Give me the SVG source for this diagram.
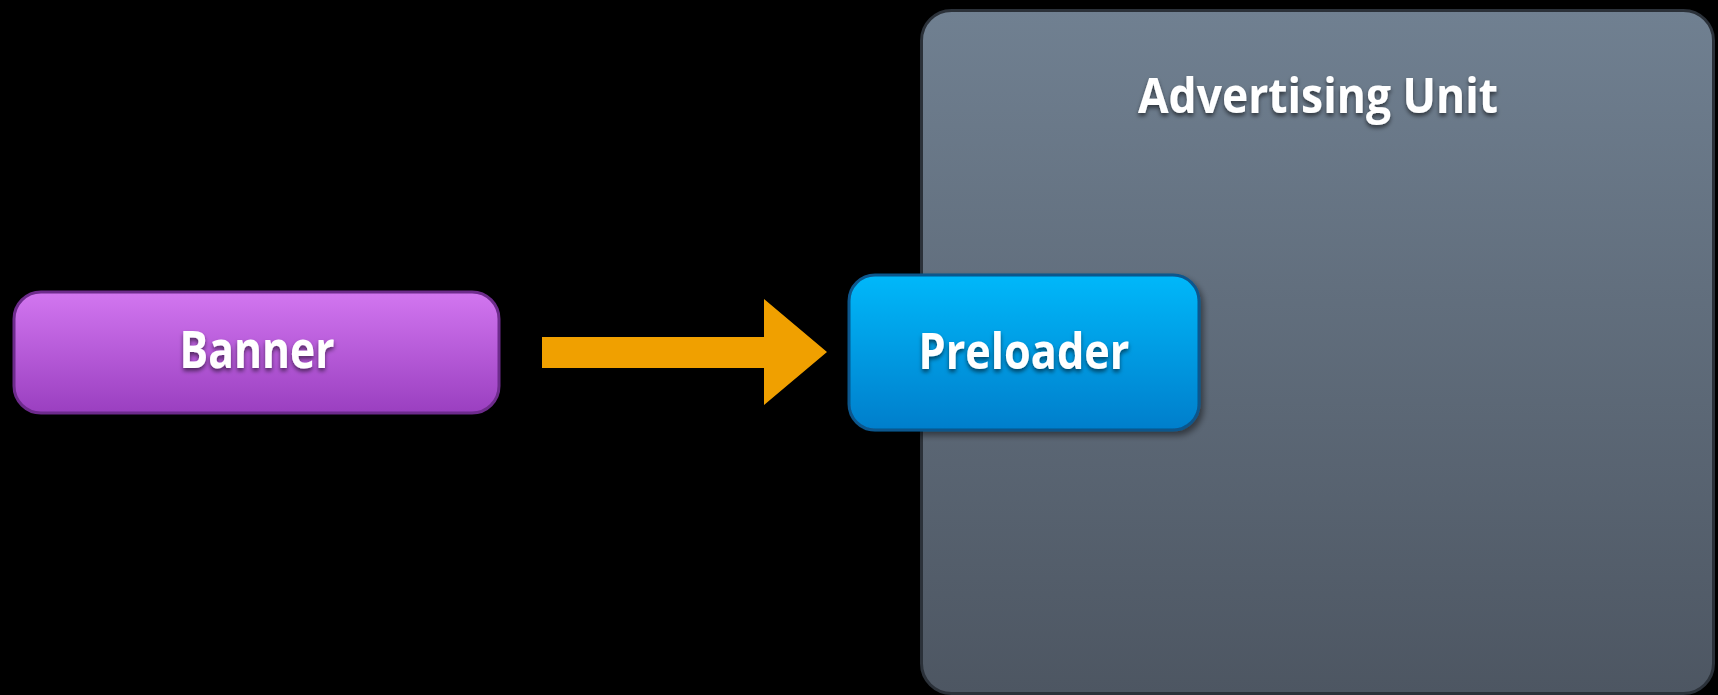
<svg xmlns="http://www.w3.org/2000/svg" width="1718" height="695" viewBox="0 0 1718 695">
<style>
.lbl{font-family:"Open Sans","Liberation Sans",sans-serif;font-weight:700;fill:#ffffff;text-anchor:middle;filter:url(#ts)}
</style>
<defs>
<linearGradient id="gPanel" x1="0" y1="0" x2="0" y2="1"><stop offset="0" stop-color="#708091"/><stop offset="1" stop-color="#4d5662"/></linearGradient>
<linearGradient id="gBanner" x1="0" y1="0" x2="0" y2="1"><stop offset="0" stop-color="#d276f0"/><stop offset="1" stop-color="#9a3fc0"/></linearGradient>
<linearGradient id="gPre" x1="0" y1="0" x2="0" y2="1"><stop offset="0" stop-color="#00b8fa"/><stop offset="1" stop-color="#007ecb"/></linearGradient>
<filter id="ts" x="-10%" y="-20%" width="120%" height="150%"><feDropShadow dx="0" dy="3" stdDeviation="2" flood-color="#000" flood-opacity="0.55"/></filter>
<filter id="bs" x="-10%" y="-10%" width="125%" height="130%"><feDropShadow dx="3" dy="4" stdDeviation="3" flood-color="#000" flood-opacity="0.45"/></filter>
</defs>
<rect width="1718" height="695" fill="#000"/>
<g id="advertising-unit">
<rect x="921.5" y="10.5" width="792" height="683" rx="30" fill="url(#gPanel)" stroke="#2b3139" stroke-width="3"/>
<text class="lbl" x="1318" y="113" font-size="48" textLength="360" lengthAdjust="spacingAndGlyphs">Advertising Unit</text>
</g>
<g id="connectors">
<polygon points="542,337 764,337 764,299 827,352 764,405 764,368 542,368" fill="#f0a000"/>
</g>
<g id="banner">
<rect x="14" y="292" width="485" height="121" rx="27" fill="url(#gBanner)" stroke="#6d2b8c" stroke-width="3"/>
<text class="lbl" x="257" y="368" font-size="52" textLength="155" lengthAdjust="spacingAndGlyphs">Banner</text>
</g>
<g id="preloader">
<rect x="849" y="275" width="350" height="155" rx="26" fill="url(#gPre)" stroke="#0b568c" stroke-width="3" filter="url(#bs)"/>
<text class="lbl" x="1024" y="369" font-size="50" textLength="211" lengthAdjust="spacingAndGlyphs">Preloader</text>
</g>
</svg>
